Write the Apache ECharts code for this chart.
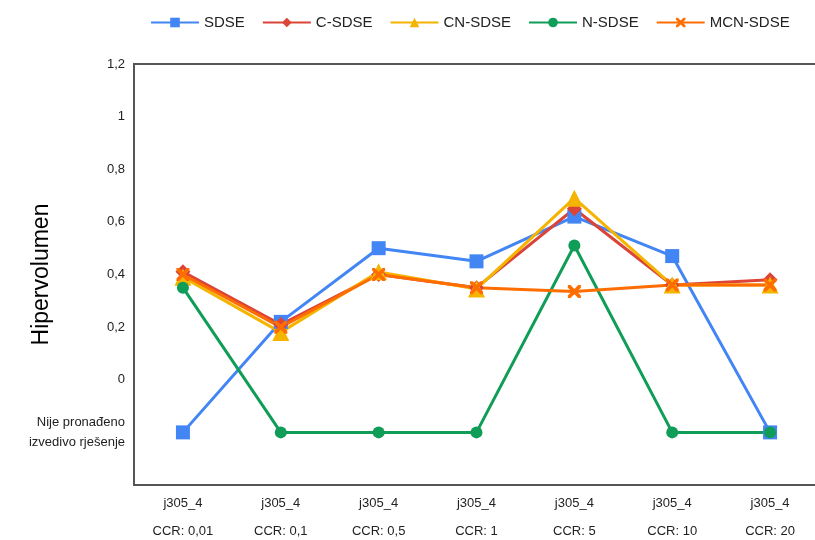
<!DOCTYPE html>
<html>
<head>
<meta charset="utf-8">
<script src="https://cdn.jsdelivr.net/npm/echarts@6/dist/echarts.min.js"></script>
<style>html,body{margin:0;padding:0;background:#fff}#c{width:815px;height:540px}</style>
</head>
<body>
<div id="c"></div>
<script>
// -0.2 stands for "Nije pronađeno izvedivo rješenje" (no feasible solution found)
const instance = 'j305_4';
const ccr = ['0,01', '0,1', '0,5', '1', '5', '10', '20'];
const NF = -0.2;
const sdse   = [NF, 0.22, 0.50, 0.45, 0.62, 0.47, NF];
const cSdse  = [0.41, 0.21, 0.40, 0.35, 0.65, 0.36, 0.38];
const cnSdse = [0.39, 0.18, 0.41, 0.345, 0.69, 0.36, 0.36];
const nSdse  = [0.35, NF, NF, NF, 0.51, NF, NF];
const mcnSdse= [0.40, 0.20, 0.40, 0.35, 0.335, 0.36, 0.36];
const notFoundLabel = 'Nije pronađeno\nizvedivo rješenje';

const categories = ccr.map(c => instance + '\nCCR: ' + c);
const crossPath = 'path://M0,0 L2,0 L5,3 L8,0 L10,0 L10,2 L7,5 L10,8 L10,10 L8,10 L5,7 L2,10 L0,10 L0,8 L3,5 L0,2 Z';

function mk(name, data, color, symbol, size) {
  return {
    name, type: 'line', data, symbol, symbolSize: size,
    showSymbol: true,
    lineStyle: { color, width: 3 },
    itemStyle: { color },
    emphasis: { disabled: true }
  };
}

const chart = echarts.init(document.getElementById('c'));
chart.setOption({
  animation: false,
  textStyle: { fontFamily: 'Liberation Sans, Arial, sans-serif' },
  legend: {
    top: 10, left: 145,
    itemWidth: 48, itemHeight: 12, itemGap: 17,
    textStyle: { fontSize: 15, color: '#222' },
    data: ['SDSE', 'C-SDSE', 'CN-SDSE', 'N-SDSE', 'MCN-SDSE']
  },
  grid: {
    left: 134, right: -4, top: 64, bottom: 55,
    outerBoundsMode: 'none', containLabel: false,
    show: true, borderColor: '#555', borderWidth: 2, backgroundColor: 'transparent'
  },
  xAxis: {
    type: 'category', data: categories, boundaryGap: true,
    axisLine: { show: false }, axisTick: { show: false },
    axisLabel: { fontSize: 13, color: '#222', lineHeight: 28, margin: 4, interval: 0 }
  },
  yAxis: {
    type: 'value', min: -0.4, max: 1.2, interval: 0.2,
    name: 'Hipervolumen', nameLocation: 'middle', nameGap: 81, nameMoveOverlap: false,
    nameTextStyle: { fontSize: 23, color: '#000' },
    splitLine: { show: false }, axisLine: { show: false }, axisTick: { show: false },
    axisLabel: {
      fontSize: 13, color: '#222', margin: 9, lineHeight: 20,
      formatter: v => {
        if (Math.abs(v - NF) < 1e-6) return notFoundLabel;
        if (v < -0.3) return '';
        return String(+v.toFixed(1)).replace('.', ',');
      }
    }
  },
  series: [
    mk('SDSE', sdse, '#4285F4', 'rect', 14),
    mk('C-SDSE', cSdse, '#DB4437', 'diamond', 15),
    mk('CN-SDSE', cnSdse, '#F4B400', 'triangle', 17),
    mk('N-SDSE', nSdse, '#0F9D58', 'circle', 12),
    mk('MCN-SDSE', mcnSdse, '#FF6D00', crossPath, 13)
  ]
});
</script>
</body>
</html>
